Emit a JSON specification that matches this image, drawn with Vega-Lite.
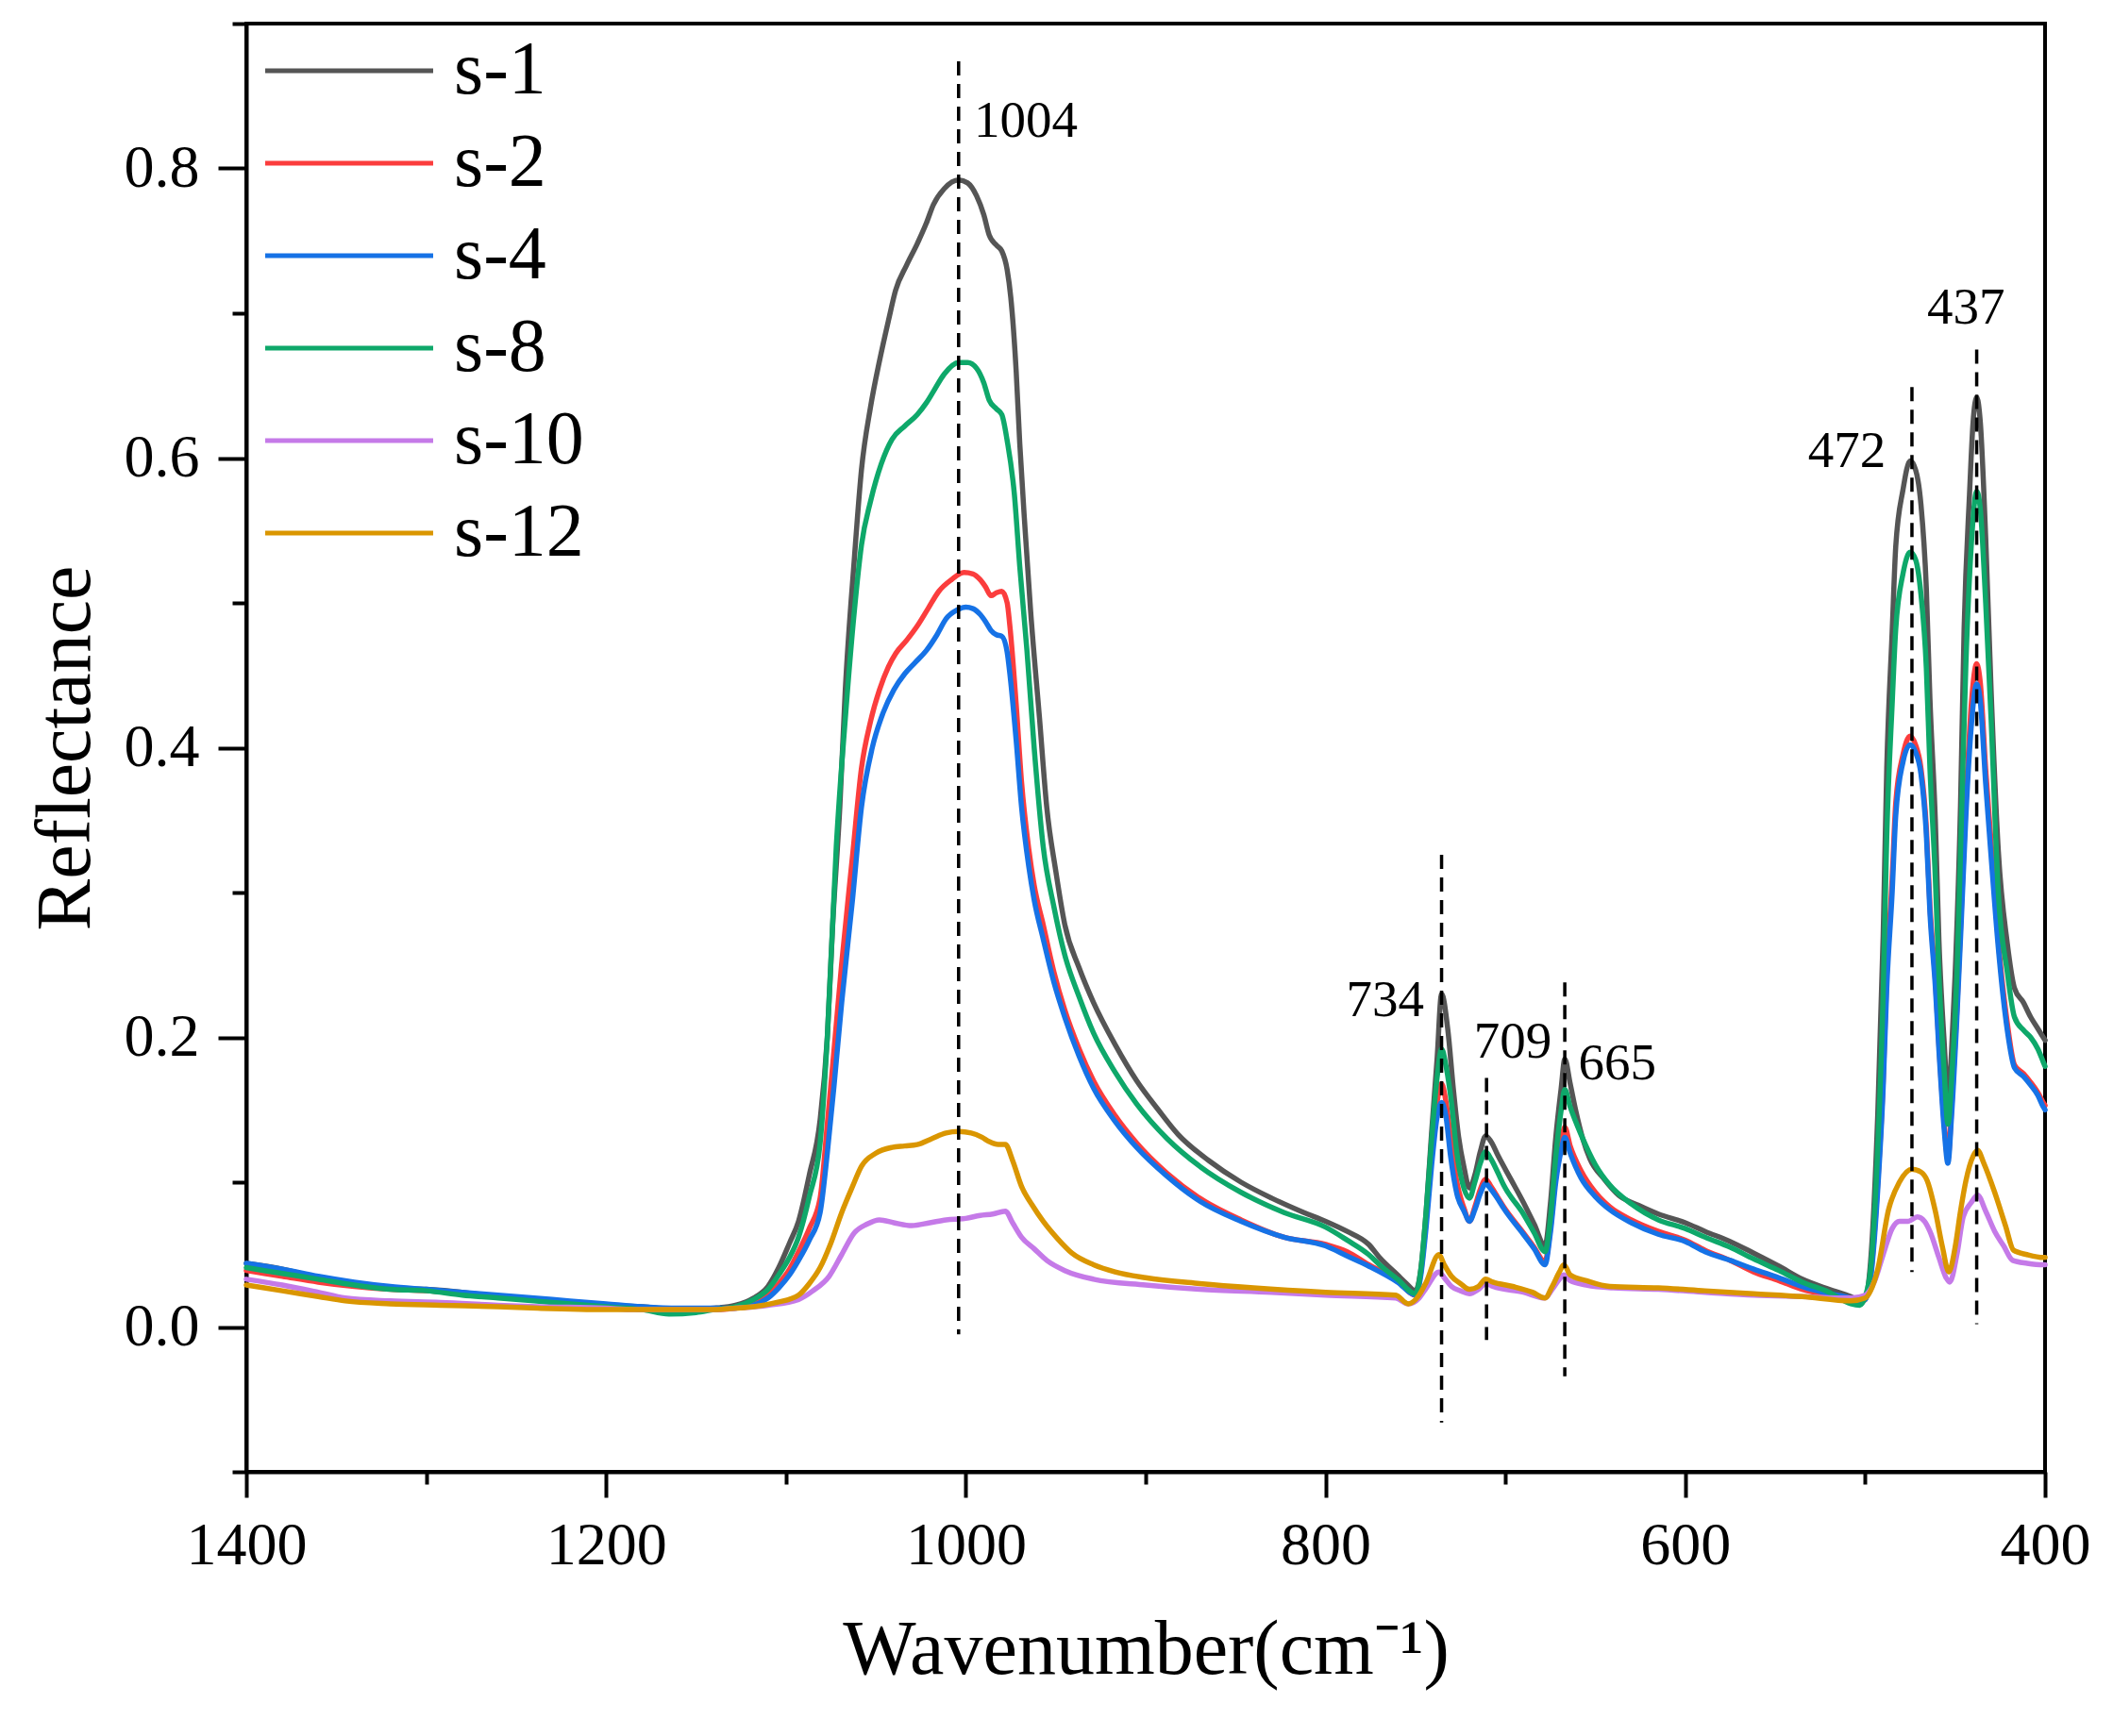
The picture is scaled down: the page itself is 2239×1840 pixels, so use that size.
{
  "$schema": "https://vega.github.io/schema/vega-lite/v6.json",
  "description": "Reflectance spectra s-1 to s-12, 1400-400 cm-1, with marked peaks",
  "autosize": "none",
  "padding": {"left": 261, "top": 25, "right": 72, "bottom": 280},
  "width": 1906,
  "height": 1535,
  "background": "white",
  "datasets": {
    "spectra": [
      {"s":"s-1","w":1400,"r":0.044},{"s":"s-1","w":1380,"r":0.040},{"s":"s-1","w":1360,"r":0.034},{"s":"s-1","w":1340,"r":0.030},{"s":"s-1","w":1320,"r":0.027},{"s":"s-1","w":1300,"r":0.026},{"s":"s-1","w":1280,"r":0.024},{"s":"s-1","w":1260,"r":0.021},{"s":"s-1","w":1240,"r":0.019},{"s":"s-1","w":1220,"r":0.017},{"s":"s-1","w":1200,"r":0.015},{"s":"s-1","w":1180,"r":0.014},{"s":"s-1","w":1160,"r":0.012},{"s":"s-1","w":1140,"r":0.013},{"s":"s-1","w":1128,"r":0.015},{"s":"s-1","w":1118,"r":0.020},{"s":"s-1","w":1110,"r":0.028},{"s":"s-1","w":1104,"r":0.041},{"s":"s-1","w":1098,"r":0.058},{"s":"s-1","w":1093,"r":0.073},{"s":"s-1","w":1087,"r":0.105},{"s":"s-1","w":1081,"r":0.143},{"s":"s-1","w":1077,"r":0.200},{"s":"s-1","w":1074,"r":0.278},{"s":"s-1","w":1070,"r":0.360},{"s":"s-1","w":1067,"r":0.440},{"s":"s-1","w":1062,"r":0.530},{"s":"s-1","w":1058,"r":0.592},{"s":"s-1","w":1053,"r":0.635},{"s":"s-1","w":1048,"r":0.667},{"s":"s-1","w":1043,"r":0.695},{"s":"s-1","w":1039,"r":0.716},{"s":"s-1","w":1033,"r":0.733},{"s":"s-1","w":1027,"r":0.748},{"s":"s-1","w":1022,"r":0.762},{"s":"s-1","w":1018,"r":0.775},{"s":"s-1","w":1012,"r":0.786},{"s":"s-1","w":1004,"r":0.792},{"s":"s-1","w":999,"r":0.790},{"s":"s-1","w":994,"r":0.781},{"s":"s-1","w":990,"r":0.768},{"s":"s-1","w":987,"r":0.754},{"s":"s-1","w":983,"r":0.747},{"s":"s-1","w":980,"r":0.743},{"s":"s-1","w":977,"r":0.730},{"s":"s-1","w":975,"r":0.711},{"s":"s-1","w":972,"r":0.660},{"s":"s-1","w":970,"r":0.610},{"s":"s-1","w":967,"r":0.550},{"s":"s-1","w":964,"r":0.495},{"s":"s-1","w":959,"r":0.420},{"s":"s-1","w":955,"r":0.359},{"s":"s-1","w":950,"r":0.315},{"s":"s-1","w":945,"r":0.278},{"s":"s-1","w":937,"r":0.248},{"s":"s-1","w":929,"r":0.224},{"s":"s-1","w":917,"r":0.195},{"s":"s-1","w":905,"r":0.170},{"s":"s-1","w":893,"r":0.150},{"s":"s-1","w":882,"r":0.133},{"s":"s-1","w":865,"r":0.115},{"s":"s-1","w":847,"r":0.100},{"s":"s-1","w":830,"r":0.089},{"s":"s-1","w":812,"r":0.079},{"s":"s-1","w":800,"r":0.073},{"s":"s-1","w":788,"r":0.066},{"s":"s-1","w":776,"r":0.057},{"s":"s-1","w":770,"r":0.048},{"s":"s-1","w":760,"r":0.036},{"s":"s-1","w":755,"r":0.030},{"s":"s-1","w":750,"r":0.025},{"s":"s-1","w":747,"r":0.040},{"s":"s-1","w":744,"r":0.081},{"s":"s-1","w":741,"r":0.135},{"s":"s-1","w":738,"r":0.185},{"s":"s-1","w":735.5,"r":0.230},{"s":"s-1","w":732,"r":0.205},{"s":"s-1","w":729,"r":0.165},{"s":"s-1","w":726,"r":0.131},{"s":"s-1","w":723,"r":0.110},{"s":"s-1","w":720,"r":0.096},{"s":"s-1","w":717,"r":0.105},{"s":"s-1","w":714,"r":0.121},{"s":"s-1","w":711,"r":0.132},{"s":"s-1","w":708,"r":0.128},{"s":"s-1","w":704,"r":0.118},{"s":"s-1","w":697,"r":0.102},{"s":"s-1","w":690,"r":0.086},{"s":"s-1","w":684,"r":0.071},{"s":"s-1","w":678,"r":0.056},{"s":"s-1","w":675,"r":0.085},{"s":"s-1","w":672,"r":0.131},{"s":"s-1","w":669,"r":0.165},{"s":"s-1","w":667,"r":0.185},{"s":"s-1","w":664,"r":0.168},{"s":"s-1","w":661,"r":0.150},{"s":"s-1","w":657,"r":0.130},{"s":"s-1","w":653,"r":0.116},{"s":"s-1","w":645,"r":0.102},{"s":"s-1","w":637,"r":0.091},{"s":"s-1","w":626,"r":0.084},{"s":"s-1","w":615,"r":0.078},{"s":"s-1","w":600,"r":0.072},{"s":"s-1","w":589,"r":0.066},{"s":"s-1","w":575,"r":0.059},{"s":"s-1","w":562,"r":0.051},{"s":"s-1","w":548,"r":0.042},{"s":"s-1","w":535,"r":0.033},{"s":"s-1","w":520,"r":0.026},{"s":"s-1","w":508,"r":0.021},{"s":"s-1","w":503,"r":0.018},{"s":"s-1","w":500,"r":0.020},{"s":"s-1","w":497,"r":0.045},{"s":"s-1","w":493,"r":0.147},{"s":"s-1","w":490,"r":0.270},{"s":"s-1","w":488,"r":0.386},{"s":"s-1","w":485,"r":0.480},{"s":"s-1","w":483,"r":0.539},{"s":"s-1","w":479,"r":0.578},{"s":"s-1","w":475,"r":0.598},{"s":"s-1","w":472,"r":0.592},{"s":"s-1","w":469,"r":0.568},{"s":"s-1","w":466,"r":0.510},{"s":"s-1","w":464,"r":0.434},{"s":"s-1","w":461,"r":0.350},{"s":"s-1","w":459,"r":0.267},{"s":"s-1","w":456,"r":0.195},{"s":"s-1","w":454,"r":0.157},{"s":"s-1","w":452,"r":0.190},{"s":"s-1","w":450,"r":0.243},{"s":"s-1","w":447,"r":0.360},{"s":"s-1","w":445,"r":0.482},{"s":"s-1","w":442,"r":0.575},{"s":"s-1","w":440,"r":0.625},{"s":"s-1","w":438,"r":0.642},{"s":"s-1","w":436,"r":0.625},{"s":"s-1","w":433,"r":0.545},{"s":"s-1","w":430,"r":0.440},{"s":"s-1","w":426,"r":0.329},{"s":"s-1","w":421,"r":0.265},{"s":"s-1","w":417,"r":0.234},{"s":"s-1","w":412,"r":0.224},{"s":"s-1","w":408,"r":0.214},{"s":"s-1","w":404,"r":0.206},{"s":"s-1","w":400,"r":0.198},

      {"s":"s-2","w":1400,"r":0.039},{"s":"s-2","w":1380,"r":0.035},{"s":"s-2","w":1360,"r":0.031},{"s":"s-2","w":1340,"r":0.028},{"s":"s-2","w":1320,"r":0.026},{"s":"s-2","w":1300,"r":0.025},{"s":"s-2","w":1280,"r":0.023},{"s":"s-2","w":1260,"r":0.021},{"s":"s-2","w":1240,"r":0.019},{"s":"s-2","w":1220,"r":0.017},{"s":"s-2","w":1200,"r":0.015},{"s":"s-2","w":1180,"r":0.013},{"s":"s-2","w":1160,"r":0.012},{"s":"s-2","w":1140,"r":0.012},{"s":"s-2","w":1128,"r":0.013},{"s":"s-2","w":1118,"r":0.016},{"s":"s-2","w":1110,"r":0.022},{"s":"s-2","w":1104,"r":0.030},{"s":"s-2","w":1098,"r":0.040},{"s":"s-2","w":1093,"r":0.052},{"s":"s-2","w":1087,"r":0.068},{"s":"s-2","w":1081,"r":0.089},{"s":"s-2","w":1077,"r":0.140},{"s":"s-2","w":1073,"r":0.195},{"s":"s-2","w":1069,"r":0.251},{"s":"s-2","w":1063,"r":0.325},{"s":"s-2","w":1058,"r":0.386},{"s":"s-2","w":1053,"r":0.418},{"s":"s-2","w":1048,"r":0.440},{"s":"s-2","w":1043,"r":0.456},{"s":"s-2","w":1039,"r":0.465},{"s":"s-2","w":1033,"r":0.474},{"s":"s-2","w":1027,"r":0.484},{"s":"s-2","w":1021,"r":0.496},{"s":"s-2","w":1015,"r":0.508},{"s":"s-2","w":1008,"r":0.516},{"s":"s-2","w":1001,"r":0.521},{"s":"s-2","w":996,"r":0.520},{"s":"s-2","w":992,"r":0.516},{"s":"s-2","w":989,"r":0.511},{"s":"s-2","w":986,"r":0.505},{"s":"s-2","w":983,"r":0.507},{"s":"s-2","w":980,"r":0.508},{"s":"s-2","w":977,"r":0.500},{"s":"s-2","w":975.5,"r":0.484},{"s":"s-2","w":972,"r":0.430},{"s":"s-2","w":969,"r":0.376},{"s":"s-2","w":965,"r":0.330},{"s":"s-2","w":962,"r":0.305},{"s":"s-2","w":957,"r":0.278},{"s":"s-2","w":951,"r":0.245},{"s":"s-2","w":945,"r":0.219},{"s":"s-2","w":937,"r":0.192},{"s":"s-2","w":929,"r":0.170},{"s":"s-2","w":917,"r":0.146},{"s":"s-2","w":905,"r":0.127},{"s":"s-2","w":888,"r":0.106},{"s":"s-2","w":870,"r":0.089},{"s":"s-2","w":847,"r":0.074},{"s":"s-2","w":823,"r":0.062},{"s":"s-2","w":800,"r":0.057},{"s":"s-2","w":788,"r":0.052},{"s":"s-2","w":776,"r":0.043},{"s":"s-2","w":760,"r":0.032},{"s":"s-2","w":750,"r":0.022},{"s":"s-2","w":747,"r":0.038},{"s":"s-2","w":744,"r":0.075},{"s":"s-2","w":741,"r":0.120},{"s":"s-2","w":738,"r":0.155},{"s":"s-2","w":735.5,"r":0.168},{"s":"s-2","w":733,"r":0.155},{"s":"s-2","w":730.5,"r":0.131},{"s":"s-2","w":727,"r":0.100},{"s":"s-2","w":723,"r":0.082},{"s":"s-2","w":720,"r":0.073},{"s":"s-2","w":717,"r":0.083},{"s":"s-2","w":714,"r":0.095},{"s":"s-2","w":711,"r":0.102},{"s":"s-2","w":708,"r":0.097},{"s":"s-2","w":704,"r":0.089},{"s":"s-2","w":701,"r":0.083},{"s":"s-2","w":690,"r":0.065},{"s":"s-2","w":684,"r":0.055},{"s":"s-2","w":678,"r":0.045},{"s":"s-2","w":675,"r":0.068},{"s":"s-2","w":672,"r":0.105},{"s":"s-2","w":669,"r":0.128},{"s":"s-2","w":667,"r":0.138},{"s":"s-2","w":664,"r":0.125},{"s":"s-2","w":658,"r":0.108},{"s":"s-2","w":650,"r":0.093},{"s":"s-2","w":642,"r":0.083},{"s":"s-2","w":630,"r":0.074},{"s":"s-2","w":615,"r":0.066},{"s":"s-2","w":600,"r":0.060},{"s":"s-2","w":589,"r":0.053},{"s":"s-2","w":575,"r":0.046},{"s":"s-2","w":562,"r":0.038},{"s":"s-2","w":548,"r":0.032},{"s":"s-2","w":535,"r":0.026},{"s":"s-2","w":520,"r":0.022},{"s":"s-2","w":508,"r":0.020},{"s":"s-2","w":503,"r":0.017},{"s":"s-2","w":500,"r":0.019},{"s":"s-2","w":497,"r":0.035},{"s":"s-2","w":493,"r":0.100},{"s":"s-2","w":490,"r":0.170},{"s":"s-2","w":488,"r":0.243},{"s":"s-2","w":485,"r":0.310},{"s":"s-2","w":483,"r":0.362},{"s":"s-2","w":479,"r":0.395},{"s":"s-2","w":475,"r":0.408},{"s":"s-2","w":472,"r":0.402},{"s":"s-2","w":469,"r":0.386},{"s":"s-2","w":466,"r":0.345},{"s":"s-2","w":464,"r":0.291},{"s":"s-2","w":461,"r":0.240},{"s":"s-2","w":459,"r":0.195},{"s":"s-2","w":456,"r":0.140},{"s":"s-2","w":454,"r":0.116},{"s":"s-2","w":452,"r":0.150},{"s":"s-2","w":449,"r":0.219},{"s":"s-2","w":446.5,"r":0.290},{"s":"s-2","w":444,"r":0.362},{"s":"s-2","w":441,"r":0.430},{"s":"s-2","w":438,"r":0.458},{"s":"s-2","w":436,"r":0.445},{"s":"s-2","w":433,"r":0.385},{"s":"s-2","w":430,"r":0.335},{"s":"s-2","w":426,"r":0.267},{"s":"s-2","w":421,"r":0.210},{"s":"s-2","w":417,"r":0.181},{"s":"s-2","w":412,"r":0.175},{"s":"s-2","w":408,"r":0.169},{"s":"s-2","w":404,"r":0.162},{"s":"s-2","w":401,"r":0.155},{"s":"s-2","w":400,"r":0.153},

      {"s":"s-4","w":1400,"r":0.044},{"s":"s-4","w":1380,"r":0.040},{"s":"s-4","w":1360,"r":0.035},{"s":"s-4","w":1340,"r":0.031},{"s":"s-4","w":1320,"r":0.028},{"s":"s-4","w":1300,"r":0.026},{"s":"s-4","w":1280,"r":0.024},{"s":"s-4","w":1260,"r":0.022},{"s":"s-4","w":1240,"r":0.020},{"s":"s-4","w":1220,"r":0.018},{"s":"s-4","w":1200,"r":0.016},{"s":"s-4","w":1180,"r":0.014},{"s":"s-4","w":1160,"r":0.013},{"s":"s-4","w":1140,"r":0.013},{"s":"s-4","w":1128,"r":0.013},{"s":"s-4","w":1118,"r":0.015},{"s":"s-4","w":1110,"r":0.020},{"s":"s-4","w":1104,"r":0.027},{"s":"s-4","w":1098,"r":0.036},{"s":"s-4","w":1093,"r":0.046},{"s":"s-4","w":1087,"r":0.060},{"s":"s-4","w":1081,"r":0.079},{"s":"s-4","w":1077,"r":0.120},{"s":"s-4","w":1073,"r":0.170},{"s":"s-4","w":1069,"r":0.224},{"s":"s-4","w":1063,"r":0.295},{"s":"s-4","w":1058,"r":0.359},{"s":"s-4","w":1052,"r":0.400},{"s":"s-4","w":1046,"r":0.424},{"s":"s-4","w":1040,"r":0.440},{"s":"s-4","w":1034,"r":0.451},{"s":"s-4","w":1028,"r":0.459},{"s":"s-4","w":1022,"r":0.467},{"s":"s-4","w":1016,"r":0.478},{"s":"s-4","w":1011,"r":0.489},{"s":"s-4","w":1005,"r":0.495},{"s":"s-4","w":1000,"r":0.497},{"s":"s-4","w":996,"r":0.496},{"s":"s-4","w":992,"r":0.492},{"s":"s-4","w":989,"r":0.487},{"s":"s-4","w":986,"r":0.481},{"s":"s-4","w":983,"r":0.478},{"s":"s-4","w":980,"r":0.477},{"s":"s-4","w":977,"r":0.466},{"s":"s-4","w":975.5,"r":0.451},{"s":"s-4","w":972,"r":0.405},{"s":"s-4","w":969,"r":0.359},{"s":"s-4","w":965,"r":0.318},{"s":"s-4","w":962,"r":0.295},{"s":"s-4","w":957,"r":0.268},{"s":"s-4","w":951,"r":0.238},{"s":"s-4","w":945,"r":0.214},{"s":"s-4","w":937,"r":0.187},{"s":"s-4","w":929,"r":0.165},{"s":"s-4","w":917,"r":0.142},{"s":"s-4","w":905,"r":0.124},{"s":"s-4","w":888,"r":0.104},{"s":"s-4","w":870,"r":0.087},{"s":"s-4","w":847,"r":0.073},{"s":"s-4","w":823,"r":0.062},{"s":"s-4","w":800,"r":0.056},{"s":"s-4","w":788,"r":0.049},{"s":"s-4","w":776,"r":0.042},{"s":"s-4","w":760,"r":0.031},{"s":"s-4","w":750,"r":0.022},{"s":"s-4","w":747,"r":0.036},{"s":"s-4","w":744,"r":0.070},{"s":"s-4","w":741,"r":0.112},{"s":"s-4","w":738,"r":0.145},{"s":"s-4","w":735.5,"r":0.155},{"s":"s-4","w":733,"r":0.145},{"s":"s-4","w":730.5,"r":0.118},{"s":"s-4","w":727,"r":0.092},{"s":"s-4","w":723,"r":0.080},{"s":"s-4","w":720,"r":0.073},{"s":"s-4","w":717,"r":0.081},{"s":"s-4","w":714,"r":0.092},{"s":"s-4","w":711,"r":0.099},{"s":"s-4","w":708,"r":0.095},{"s":"s-4","w":704,"r":0.088},{"s":"s-4","w":701,"r":0.082},{"s":"s-4","w":690,"r":0.064},{"s":"s-4","w":684,"r":0.054},{"s":"s-4","w":678,"r":0.043},{"s":"s-4","w":675,"r":0.065},{"s":"s-4","w":672,"r":0.100},{"s":"s-4","w":669,"r":0.122},{"s":"s-4","w":667,"r":0.131},{"s":"s-4","w":664,"r":0.120},{"s":"s-4","w":658,"r":0.103},{"s":"s-4","w":650,"r":0.090},{"s":"s-4","w":642,"r":0.081},{"s":"s-4","w":630,"r":0.072},{"s":"s-4","w":615,"r":0.064},{"s":"s-4","w":600,"r":0.059},{"s":"s-4","w":589,"r":0.052},{"s":"s-4","w":575,"r":0.046},{"s":"s-4","w":562,"r":0.040},{"s":"s-4","w":548,"r":0.034},{"s":"s-4","w":535,"r":0.028},{"s":"s-4","w":520,"r":0.023},{"s":"s-4","w":508,"r":0.020},{"s":"s-4","w":503,"r":0.018},{"s":"s-4","w":500,"r":0.019},{"s":"s-4","w":497,"r":0.033},{"s":"s-4","w":493,"r":0.095},{"s":"s-4","w":490,"r":0.165},{"s":"s-4","w":488,"r":0.234},{"s":"s-4","w":485,"r":0.300},{"s":"s-4","w":483,"r":0.353},{"s":"s-4","w":479,"r":0.390},{"s":"s-4","w":475,"r":0.402},{"s":"s-4","w":472,"r":0.397},{"s":"s-4","w":469,"r":0.382},{"s":"s-4","w":466,"r":0.340},{"s":"s-4","w":464,"r":0.286},{"s":"s-4","w":461,"r":0.235},{"s":"s-4","w":459,"r":0.191},{"s":"s-4","w":456,"r":0.135},{"s":"s-4","w":454,"r":0.113},{"s":"s-4","w":452,"r":0.145},{"s":"s-4","w":449,"r":0.214},{"s":"s-4","w":446.5,"r":0.282},{"s":"s-4","w":444,"r":0.353},{"s":"s-4","w":441,"r":0.415},{"s":"s-4","w":438,"r":0.444},{"s":"s-4","w":436,"r":0.432},{"s":"s-4","w":433,"r":0.375},{"s":"s-4","w":430,"r":0.325},{"s":"s-4","w":426,"r":0.262},{"s":"s-4","w":421,"r":0.205},{"s":"s-4","w":417,"r":0.179},{"s":"s-4","w":412,"r":0.173},{"s":"s-4","w":408,"r":0.167},{"s":"s-4","w":404,"r":0.160},{"s":"s-4","w":401,"r":0.152},{"s":"s-4","w":400,"r":0.150},

      {"s":"s-8","w":1400,"r":0.041},{"s":"s-8","w":1380,"r":0.037},{"s":"s-8","w":1360,"r":0.033},{"s":"s-8","w":1340,"r":0.029},{"s":"s-8","w":1320,"r":0.026},{"s":"s-8","w":1300,"r":0.025},{"s":"s-8","w":1280,"r":0.022},{"s":"s-8","w":1260,"r":0.020},{"s":"s-8","w":1240,"r":0.018},{"s":"s-8","w":1220,"r":0.016},{"s":"s-8","w":1200,"r":0.014},{"s":"s-8","w":1180,"r":0.012},{"s":"s-8","w":1165,"r":0.009},{"s":"s-8","w":1150,"r":0.010},{"s":"s-8","w":1140,"r":0.012},{"s":"s-8","w":1128,"r":0.014},{"s":"s-8","w":1118,"r":0.019},{"s":"s-8","w":1110,"r":0.026},{"s":"s-8","w":1104,"r":0.036},{"s":"s-8","w":1098,"r":0.048},{"s":"s-8","w":1093,"r":0.062},{"s":"s-8","w":1087,"r":0.090},{"s":"s-8","w":1081,"r":0.127},{"s":"s-8","w":1077,"r":0.200},{"s":"s-8","w":1072,"r":0.332},{"s":"s-8","w":1067,"r":0.420},{"s":"s-8","w":1062,"r":0.494},{"s":"s-8","w":1058,"r":0.540},{"s":"s-8","w":1053,"r":0.570},{"s":"s-8","w":1047,"r":0.596},{"s":"s-8","w":1041,"r":0.613},{"s":"s-8","w":1034,"r":0.622},{"s":"s-8","w":1027,"r":0.630},{"s":"s-8","w":1022,"r":0.638},{"s":"s-8","w":1018,"r":0.646},{"s":"s-8","w":1012,"r":0.658},{"s":"s-8","w":1004,"r":0.666},{"s":"s-8","w":999,"r":0.666},{"s":"s-8","w":994,"r":0.662},{"s":"s-8","w":990,"r":0.652},{"s":"s-8","w":987,"r":0.640},{"s":"s-8","w":983,"r":0.634},{"s":"s-8","w":980,"r":0.630},{"s":"s-8","w":977,"r":0.612},{"s":"s-8","w":973,"r":0.575},{"s":"s-8","w":970,"r":0.525},{"s":"s-8","w":966,"r":0.467},{"s":"s-8","w":962,"r":0.400},{"s":"s-8","w":957,"r":0.332},{"s":"s-8","w":951,"r":0.290},{"s":"s-8","w":945,"r":0.257},{"s":"s-8","w":937,"r":0.228},{"s":"s-8","w":929,"r":0.203},{"s":"s-8","w":917,"r":0.176},{"s":"s-8","w":905,"r":0.154},{"s":"s-8","w":888,"r":0.130},{"s":"s-8","w":870,"r":0.111},{"s":"s-8","w":847,"r":0.093},{"s":"s-8","w":823,"r":0.079},{"s":"s-8","w":800,"r":0.069},{"s":"s-8","w":788,"r":0.060},{"s":"s-8","w":776,"r":0.050},{"s":"s-8","w":770,"r":0.043},{"s":"s-8","w":760,"r":0.033},{"s":"s-8","w":750,"r":0.023},{"s":"s-8","w":747,"r":0.040},{"s":"s-8","w":744,"r":0.081},{"s":"s-8","w":741,"r":0.130},{"s":"s-8","w":738,"r":0.172},{"s":"s-8","w":735.5,"r":0.192},{"s":"s-8","w":733,"r":0.180},{"s":"s-8","w":730,"r":0.155},{"s":"s-8","w":727,"r":0.120},{"s":"s-8","w":724,"r":0.100},{"s":"s-8","w":720,"r":0.089},{"s":"s-8","w":717,"r":0.100},{"s":"s-8","w":714,"r":0.113},{"s":"s-8","w":711,"r":0.121},{"s":"s-8","w":708,"r":0.116},{"s":"s-8","w":704,"r":0.106},{"s":"s-8","w":701,"r":0.098},{"s":"s-8","w":690,"r":0.078},{"s":"s-8","w":684,"r":0.065},{"s":"s-8","w":678,"r":0.052},{"s":"s-8","w":675,"r":0.075},{"s":"s-8","w":672,"r":0.118},{"s":"s-8","w":669,"r":0.150},{"s":"s-8","w":667,"r":0.164},{"s":"s-8","w":664,"r":0.152},{"s":"s-8","w":658,"r":0.133},{"s":"s-8","w":650,"r":0.112},{"s":"s-8","w":642,"r":0.098},{"s":"s-8","w":630,"r":0.085},{"s":"s-8","w":615,"r":0.074},{"s":"s-8","w":600,"r":0.068},{"s":"s-8","w":589,"r":0.062},{"s":"s-8","w":575,"r":0.055},{"s":"s-8","w":562,"r":0.047},{"s":"s-8","w":548,"r":0.039},{"s":"s-8","w":535,"r":0.031},{"s":"s-8","w":520,"r":0.024},{"s":"s-8","w":508,"r":0.016},{"s":"s-8","w":503,"r":0.015},{"s":"s-8","w":500,"r":0.021},{"s":"s-8","w":497,"r":0.040},{"s":"s-8","w":493,"r":0.124},{"s":"s-8","w":490,"r":0.230},{"s":"s-8","w":488,"r":0.339},{"s":"s-8","w":485,"r":0.430},{"s":"s-8","w":483,"r":0.482},{"s":"s-8","w":479,"r":0.520},{"s":"s-8","w":475,"r":0.535},{"s":"s-8","w":472,"r":0.530},{"s":"s-8","w":469,"r":0.506},{"s":"s-8","w":466,"r":0.455},{"s":"s-8","w":464,"r":0.386},{"s":"s-8","w":461,"r":0.310},{"s":"s-8","w":459,"r":0.243},{"s":"s-8","w":456,"r":0.175},{"s":"s-8","w":454,"r":0.140},{"s":"s-8","w":452,"r":0.170},{"s":"s-8","w":449,"r":0.243},{"s":"s-8","w":446.5,"r":0.350},{"s":"s-8","w":444,"r":0.458},{"s":"s-8","w":441,"r":0.540},{"s":"s-8","w":438,"r":0.577},{"s":"s-8","w":436,"r":0.565},{"s":"s-8","w":433,"r":0.500},{"s":"s-8","w":430,"r":0.420},{"s":"s-8","w":426,"r":0.300},{"s":"s-8","w":421,"r":0.245},{"s":"s-8","w":417,"r":0.214},{"s":"s-8","w":412,"r":0.205},{"s":"s-8","w":408,"r":0.200},{"s":"s-8","w":404,"r":0.192},{"s":"s-8","w":401,"r":0.183},{"s":"s-8","w":400,"r":0.180},

      {"s":"s-10","w":1400,"r":0.033},{"s":"s-10","w":1380,"r":0.029},{"s":"s-10","w":1360,"r":0.024},{"s":"s-10","w":1345,"r":0.020},{"s":"s-10","w":1320,"r":0.018},{"s":"s-10","w":1292,"r":0.017},{"s":"s-10","w":1260,"r":0.015},{"s":"s-10","w":1238,"r":0.014},{"s":"s-10","w":1200,"r":0.013},{"s":"s-10","w":1185,"r":0.012},{"s":"s-10","w":1160,"r":0.012},{"s":"s-10","w":1140,"r":0.012},{"s":"s-10","w":1128,"r":0.013},{"s":"s-10","w":1110,"r":0.015},{"s":"s-10","w":1093,"r":0.019},{"s":"s-10","w":1085,"r":0.025},{"s":"s-10","w":1076,"r":0.035},{"s":"s-10","w":1069,"r":0.050},{"s":"s-10","w":1062,"r":0.065},{"s":"s-10","w":1055,"r":0.071},{"s":"s-10","w":1048,"r":0.074},{"s":"s-10","w":1040,"r":0.072},{"s":"s-10","w":1030,"r":0.070},{"s":"s-10","w":1020,"r":0.072},{"s":"s-10","w":1011,"r":0.074},{"s":"s-10","w":1000,"r":0.075},{"s":"s-10","w":992,"r":0.077},{"s":"s-10","w":985,"r":0.078},{"s":"s-10","w":978,"r":0.080},{"s":"s-10","w":974,"r":0.072},{"s":"s-10","w":969,"r":0.062},{"s":"s-10","w":962,"r":0.054},{"s":"s-10","w":955,"r":0.046},{"s":"s-10","w":945,"r":0.039},{"s":"s-10","w":929,"r":0.033},{"s":"s-10","w":900,"r":0.029},{"s":"s-10","w":870,"r":0.026},{"s":"s-10","w":830,"r":0.024},{"s":"s-10","w":800,"r":0.022},{"s":"s-10","w":761,"r":0.020},{"s":"s-10","w":754,"r":0.016},{"s":"s-10","w":748,"r":0.020},{"s":"s-10","w":744,"r":0.027},{"s":"s-10","w":737,"r":0.038},{"s":"s-10","w":734,"r":0.034},{"s":"s-10","w":730,"r":0.028},{"s":"s-10","w":725,"r":0.025},{"s":"s-10","w":720,"r":0.023},{"s":"s-10","w":715,"r":0.026},{"s":"s-10","w":711,"r":0.030},{"s":"s-10","w":707,"r":0.028},{"s":"s-10","w":690,"r":0.024},{"s":"s-10","w":678,"r":0.020},{"s":"s-10","w":674,"r":0.026},{"s":"s-10","w":670,"r":0.033},{"s":"s-10","w":667.5,"r":0.036},{"s":"s-10","w":664,"r":0.032},{"s":"s-10","w":655,"r":0.029},{"s":"s-10","w":640,"r":0.027},{"s":"s-10","w":615,"r":0.026},{"s":"s-10","w":589,"r":0.024},{"s":"s-10","w":562,"r":0.022},{"s":"s-10","w":535,"r":0.021},{"s":"s-10","w":508,"r":0.020},{"s":"s-10","w":500,"r":0.022},{"s":"s-10","w":495,"r":0.031},{"s":"s-10","w":490,"r":0.050},{"s":"s-10","w":485,"r":0.068},{"s":"s-10","w":481,"r":0.073},{"s":"s-10","w":476,"r":0.073},{"s":"s-10","w":471,"r":0.076},{"s":"s-10","w":467,"r":0.073},{"s":"s-10","w":464,"r":0.066},{"s":"s-10","w":459,"r":0.048},{"s":"s-10","w":455,"r":0.034},{"s":"s-10","w":453,"r":0.031},{"s":"s-10","w":449,"r":0.050},{"s":"s-10","w":445.5,"r":0.076},{"s":"s-10","w":441,"r":0.086},{"s":"s-10","w":437.5,"r":0.091},{"s":"s-10","w":433,"r":0.080},{"s":"s-10","w":428,"r":0.066},{"s":"s-10","w":423,"r":0.056},{"s":"s-10","w":418,"r":0.046},{"s":"s-10","w":410,"r":0.044},{"s":"s-10","w":401,"r":0.043},{"s":"s-10","w":400,"r":0.043},

      {"s":"s-12","w":1400,"r":0.029},{"s":"s-12","w":1380,"r":0.025},{"s":"s-12","w":1360,"r":0.021},{"s":"s-12","w":1345,"r":0.018},{"s":"s-12","w":1320,"r":0.016},{"s":"s-12","w":1292,"r":0.015},{"s":"s-12","w":1260,"r":0.014},{"s":"s-12","w":1238,"r":0.013},{"s":"s-12","w":1200,"r":0.012},{"s":"s-12","w":1185,"r":0.012},{"s":"s-12","w":1160,"r":0.012},{"s":"s-12","w":1140,"r":0.012},{"s":"s-12","w":1128,"r":0.013},{"s":"s-12","w":1118,"r":0.014},{"s":"s-12","w":1105,"r":0.017},{"s":"s-12","w":1093,"r":0.022},{"s":"s-12","w":1087,"r":0.030},{"s":"s-12","w":1081,"r":0.041},{"s":"s-12","w":1075,"r":0.058},{"s":"s-12","w":1069,"r":0.079},{"s":"s-12","w":1063,"r":0.097},{"s":"s-12","w":1058,"r":0.111},{"s":"s-12","w":1050,"r":0.120},{"s":"s-12","w":1041,"r":0.124},{"s":"s-12","w":1034,"r":0.125},{"s":"s-12","w":1027,"r":0.126},{"s":"s-12","w":1019,"r":0.130},{"s":"s-12","w":1011,"r":0.134},{"s":"s-12","w":1004,"r":0.135},{"s":"s-12","w":997,"r":0.134},{"s":"s-12","w":991,"r":0.131},{"s":"s-12","w":987,"r":0.128},{"s":"s-12","w":982,"r":0.126},{"s":"s-12","w":978,"r":0.126},{"s":"s-12","w":974,"r":0.115},{"s":"s-12","w":969,"r":0.097},{"s":"s-12","w":963,"r":0.084},{"s":"s-12","w":957,"r":0.073},{"s":"s-12","w":949,"r":0.061},{"s":"s-12","w":941,"r":0.051},{"s":"s-12","w":929,"r":0.043},{"s":"s-12","w":917,"r":0.038},{"s":"s-12","w":900,"r":0.034},{"s":"s-12","w":870,"r":0.030},{"s":"s-12","w":840,"r":0.027},{"s":"s-12","w":800,"r":0.024},{"s":"s-12","w":761,"r":0.022},{"s":"s-12","w":754,"r":0.016},{"s":"s-12","w":748,"r":0.022},{"s":"s-12","w":744,"r":0.031},{"s":"s-12","w":737,"r":0.050},{"s":"s-12","w":734,"r":0.043},{"s":"s-12","w":730,"r":0.035},{"s":"s-12","w":725,"r":0.030},{"s":"s-12","w":720,"r":0.026},{"s":"s-12","w":715,"r":0.028},{"s":"s-12","w":711,"r":0.033},{"s":"s-12","w":707,"r":0.031},{"s":"s-12","w":696,"r":0.028},{"s":"s-12","w":685,"r":0.024},{"s":"s-12","w":678,"r":0.020},{"s":"s-12","w":674,"r":0.028},{"s":"s-12","w":670,"r":0.038},{"s":"s-12","w":667.5,"r":0.043},{"s":"s-12","w":664,"r":0.036},{"s":"s-12","w":655,"r":0.032},{"s":"s-12","w":642,"r":0.028},{"s":"s-12","w":615,"r":0.027},{"s":"s-12","w":589,"r":0.025},{"s":"s-12","w":562,"r":0.023},{"s":"s-12","w":535,"r":0.021},{"s":"s-12","w":508,"r":0.018},{"s":"s-12","w":500,"r":0.020},{"s":"s-12","w":497,"r":0.025},{"s":"s-12","w":493,"r":0.040},{"s":"s-12","w":487,"r":0.081},{"s":"s-12","w":481,"r":0.100},{"s":"s-12","w":474,"r":0.109},{"s":"s-12","w":469,"r":0.107},{"s":"s-12","w":465.5,"r":0.101},{"s":"s-12","w":461,"r":0.080},{"s":"s-12","w":457,"r":0.055},{"s":"s-12","w":453.5,"r":0.038},{"s":"s-12","w":450,"r":0.055},{"s":"s-12","w":447,"r":0.080},{"s":"s-12","w":444,"r":0.101},{"s":"s-12","w":440,"r":0.118},{"s":"s-12","w":437.5,"r":0.122},{"s":"s-12","w":434,"r":0.113},{"s":"s-12","w":428,"r":0.093},{"s":"s-12","w":422,"r":0.070},{"s":"s-12","w":417.5,"r":0.053},{"s":"s-12","w":410,"r":0.050},{"s":"s-12","w":401,"r":0.048},{"s":"s-12","w":400,"r":0.048}
    ],
    "peaks": [
      {"w":1004,"top":0.874,"bottom":-0.005},
      {"w":735.5,"top":0.326,"bottom":-0.066},
      {"w":710.5,"top":0.172,"bottom":-0.009},
      {"w":667,"top":0.238,"bottom":-0.034},
      {"w":474,"top":0.649,"bottom":0.038},
      {"w":438,"top":0.675,"bottom":0.002}
    ],
    "labelsLeft": [
      {"w":995.5,"r":0.833,"t":"1004"},
      {"w":717.6,"r":0.197,"t":"709"},
      {"w":659.5,"r":0.182,"t":"665"},
      {"w":465.6,"r":0.704,"t":"437"}
    ],
    "labelsRight": [
      {"w":745.2,"r":0.226,"t":"734"},
      {"w":488.5,"r":0.605,"t":"472"}
    ]
  },
  "encoding": {
    "x": {
      "field": "w",
      "type": "quantitative",
      "scale": {"domain": [400, 1400], "reverse": true, "nice": false, "zero": false},
      "axis": {
        "title": "Wavenumber(cm⁻¹)",
        "values": [1400, 1300, 1200, 1100, 1000, 900, 800, 700, 600, 500, 400],
        "labelExpr": "datum.value % 200 === 0 ? datum.value : ''",
        "tickSize": {"condition": {"test": "datum.value % 200 === 0", "value": 27}, "value": 13},
        "labelPadding": 19,
        "labelFlush": false,
        "titlePadding": 38
      }
    },
    "y": {
      "field": "r",
      "type": "quantitative",
      "scale": {"domain": [-0.1, 0.9], "nice": false, "zero": false},
      "axis": {
        "title": "Reflectance",
        "values": [-0.1, 0, 0.1, 0.2, 0.3, 0.4, 0.5, 0.6, 0.7, 0.8, 0.9],
        "labelExpr": "abs(round(datum.value * 10)) % 2 === 0 ? format(datum.value, '.1f') : ''",
        "tickSize": {"condition": {"test": "abs(round(datum.value * 10)) % 2 === 0", "value": 30}, "value": 15},
        "labelPadding": 20,
        "labelFlush": false,
        "titlePadding": 20
      }
    }
  },
  "layer": [
    {
      "data": {"name": "spectra"},
      "mark": {"type": "line", "strokeWidth": 5.5, "strokeJoin": "round", "strokeCap": "round", "interpolate": "monotone"},
      "encoding": {
        "color": {
          "field": "s",
          "type": "nominal",
          "scale": {
            "domain": ["s-1", "s-2", "s-4", "s-8", "s-10", "s-12"],
            "range": ["#555555", "#fb3d3d", "#1672e6", "#0ea86a", "#c57ae8", "#da9600"]
          },
          "legend": {
            "title": null,
            "orient": "none",
            "legendX": 69,
            "legendY": 10,
            "symbolType": "M-4,0H4",
            "symbolSize": 1980,
            "symbolStrokeWidth": 5,
            "labelFont": "Liberation Serif",
            "labelFontSize": 80,
            "labelColor": "black",
            "labelOffset": 71,
            "labelBaseline": "middle",
            "rowPadding": 18,
            "padding": 0
          }
        }
      }
    },
    {
      "data": {"name": "peaks"},
      "mark": {"type": "rule", "color": "black", "strokeWidth": 3.5, "strokeDash": [15, 9]},
      "encoding": {
        "y": {"field": "top", "type": "quantitative"},
        "y2": {"field": "bottom"}
      }
    },
    {
      "data": {"name": "labelsLeft"},
      "mark": {"type": "text", "align": "left", "baseline": "middle", "font": "Liberation Serif", "fontSize": 55, "color": "black"},
      "encoding": {"text": {"field": "t"}}
    },
    {
      "data": {"name": "labelsRight"},
      "mark": {"type": "text", "align": "right", "baseline": "middle", "font": "Liberation Serif", "fontSize": 55, "color": "black"},
      "encoding": {"text": {"field": "t"}}
    }
  ],
  "config": {
    "view": {"stroke": "black", "strokeWidth": 4},
    "axis": {
      "grid": false,
      "domainColor": "black",
      "domainWidth": 4,
      "tickColor": "black",
      "tickWidth": 4,
      "labelFont": "Liberation Serif",
      "labelFontSize": 64,
      "labelColor": "black",
      "titleFont": "Liberation Serif",
      "titleFontSize": 82,
      "titleFontWeight": "normal",
      "titleColor": "black"
    }
  }
}
